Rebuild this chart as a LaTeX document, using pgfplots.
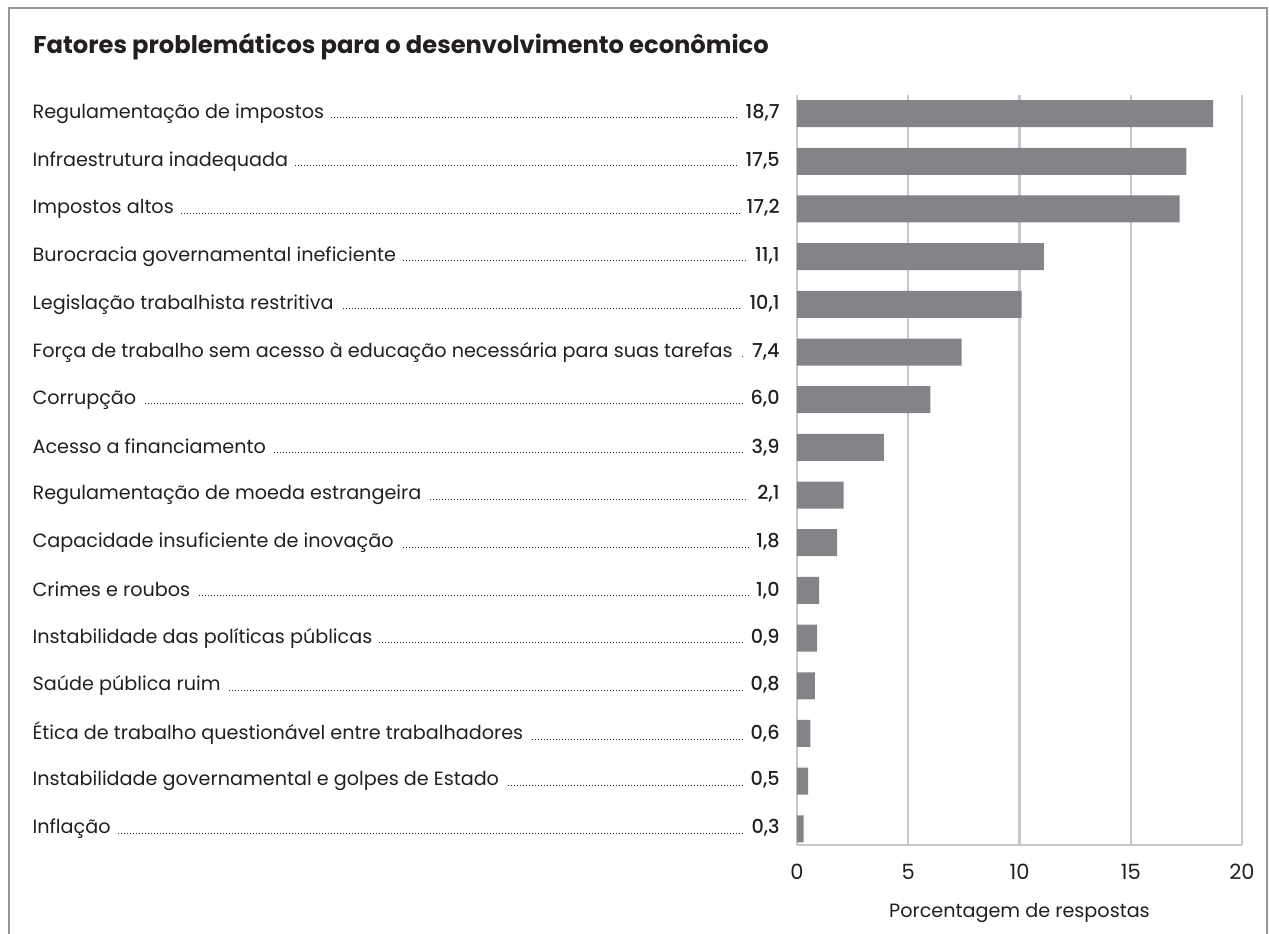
\documentclass[border=0pt]{standalone}
\usepackage{pgfplots}
\pgfplotsset{compat=1.18}
\usepackage{fontspec}
\setmainfont{Poppins}
\newfontfamily\medfont{Poppins Medium}
\definecolor{barc}{RGB}{131,132,136}
\definecolor{txt}{RGB}{35,31,32}
\definecolor{gridc}{RGB}{200,200,202}
\definecolor{framec}{RGB}{150,150,152}
\newcommand{\lbl}[2]{\makebox[373.5pt][l]{#1\ \leaders\hbox to 1.5pt{\hss\rule{0.5pt}{0.5pt}\hss}\hfill\hspace{3pt}{\medfont #2}}}
\begin{document}
\begin{tikzpicture}[x=1pt,y=1pt]
\path[use as bounding box] (0,0) rectangle (634.5,-466.5);
\draw[framec, line width=1pt] (4.5,-470) -- (4.5,-4) -- (633.5,-4) -- (633.5,-470);
\node[anchor=west, font=\fontsize{12.1}{14}\selectfont\bfseries, text=txt, inner sep=0pt] at (16.5,-23.5) {Fatores problemáticos para o desenvolvimento econômico};
\begin{axis}[
  at={(398.5pt,-422.5pt)}, anchor=south west,
  scale only axis, width=222.5pt, height=375pt,
  xmin=0, xmax=20, ymin=-0.34, ymax=15.39,
  axis x line*=bottom, axis y line*=left,
  axis line style={gridc, line width=1.3pt},
  xtick={0,5,10,15,20},
  xmajorgrids, major grid style={gridc, line width=1.1pt},
  major tick length=0pt, tick style={draw=none},
  ytick={0,...,15},
  yticklabels={
    {\lbl{Inflação}{0,3}},
    {\lbl{Instabilidade governamental e golpes de Estado}{0,5}},
    {\lbl{Ética de trabalho questionável entre trabalhadores}{0,6}},
    {\lbl{Saúde pública ruim}{0,8}},
    {\lbl{Instabilidade das políticas públicas}{0,9}},
    {\lbl{Crimes e roubos}{1,0}},
    {\lbl{Capacidade insuficiente de inovação}{1,8}},
    {\lbl{Regulamentação de moeda estrangeira}{\,2,1}},
    {\lbl{Acesso a financiamento}{3,9}},
    {\lbl{Corrupção}{6,0}},
    {\lbl{Força de trabalho sem acesso à educação necessária para suas tarefas}{7,4}},
    {\lbl{Legislação trabalhista restritiva}{10,1}},
    {\lbl{Burocracia governamental ineficiente}{11,1}},
    {\lbl{Impostos altos}{17,2}},
    {\lbl{Infraestrutura inadequada}{17,5}},
    {\lbl{Regulamentação de impostos}{18,7}}
  },
  yticklabel style={anchor=east, inner sep=0pt, xshift=-8.5pt, font=\fontsize{9.6}{11}\selectfont, text=txt},
  xticklabel style={anchor=center, inner sep=0pt, yshift=-13.5pt, font=\fontsize{10.5}{12}\selectfont, text=txt},
  /pgf/number format/assume math mode=true,
  xlabel={Porcentagem de respostas},
  xlabel style={at={(axis description cs:0.5,0)}, anchor=center, yshift=-34pt, font=\fontsize{9.6}{11}\selectfont, text=txt},
  xbar, bar width=13.5pt, bar shift=0pt,
  clip=false,
]
\addplot[fill=barc, draw=none] coordinates {
  (0.3,0) (0.5,1) (0.6,2) (0.8,3) (0.9,4) (1.0,5) (1.8,6) (2.1,7)
  (3.9,8) (6.0,9) (7.4,10) (10.1,11) (11.1,12) (17.2,13) (17.5,14) (18.7,15)
};
\end{axis}
\end{tikzpicture}
\end{document}
